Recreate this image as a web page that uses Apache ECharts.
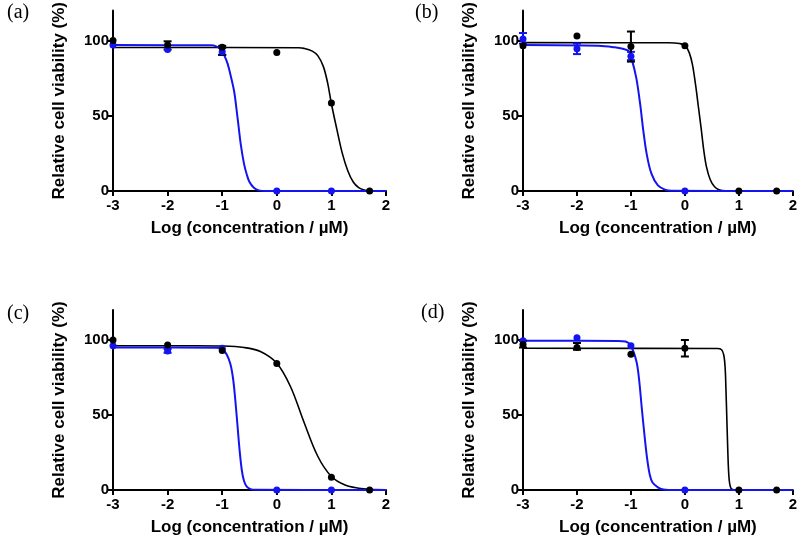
<!DOCTYPE html>
<html>
<head>
<meta charset="utf-8">
<script src="https://cdn.jsdelivr.net/npm/echarts@6/dist/echarts.min.js"></script>
<style>html,body{margin:0;padding:0;background:#fff}#c{width:800px;height:537px}</style>
</head>
<body>
<div id="c"></div>
<script>
// ---- data ----
const panelLabels = ['(a)', '(b)', '(c)', '(d)'];
const xTicks = [-3, -2, -1, 0, 1, 2];
const yTicks = [0, 50, 100];

// (a)
const aBlackCurve = [[-3,95.4],[0.4,95.2],[0.5,94.8],[0.65,93],[0.75,90],[0.85,83],[0.93,72],[1.0,58],[1.1,41],[1.2,25],[1.3,13.5],[1.4,6],[1.5,2.3],[1.6,0.7],[1.7,0.2],[2,0]];
const aBlueCurve = [[-3,97],[-1.2,96.8],[-1.1,96],[-1.03,94.5],[-0.96,90],[-0.9,84.5],[-0.84,76],[-0.78,66],[-0.74,55],[-0.7,43],[-0.66,31],[-0.6,18],[-0.55,11],[-0.5,6],[-0.42,2.2],[-0.33,0.4],[-0.2,0],[2,0]];
const aBlackPts = [[-3,100],[-2,97],[-1,95.5],[0,92],[1,58.5],[1.7,0]];
const aBlackErr = [[-2,94,99.5],[-1,90.5,96.5]];
const aBluePts = [[-3,97],[-2,94],[-1,92.5],[0,0],[1,0]];
const aBlueErr = [[-1,90.5,95]];

// (b)
const bBlackCurve = [[-3,98.6],[-0.3,98.5],[-0.1,98],[0,96.8],[0.08,92],[0.14,84],[0.2,70],[0.25,56],[0.3,42],[0.35,27],[0.4,16],[0.47,7.5],[0.55,2.8],[0.63,0.9],[0.75,0.1],[2,0]];
const bBlueCurve = [[-3,97],[-1.6,96.5],[-1.3,95.5],[-1.15,94.5],[-1.04,93],[-0.98,87],[-0.9,75],[-0.83,58],[-0.77,40],[-0.71,25],[-0.62,11.5],[-0.5,3.7],[-0.37,0.9],[-0.25,0.1],[2,0]];
const bBlackPts = [[-3,96.5],[-2,103],[-1,96],[0,96.5],[1,0],[1.7,0]];
const bBlackErr = [[-1,86,106]];
const bBluePts = [[-3,101],[-2,94.5],[-1,89.5],[0,0]];
const bBlueErr = [[-3,98,105],[-2,91,98],[-1,87,92.5]];

// (c)
const cBlackCurve = [[-3,96.2],[-1.5,96.2],[-1,96],[-0.6,95],[-0.3,92.3],[0,84.5],[0.25,69],[0.5,45],[0.75,22.5],[1,9],[1.25,3.3],[1.5,1.2],[1.7,0.5],[2,0.2]];
const cBlueCurve = [[-3,95],[-1.1,94.8],[-1,93.8],[-0.92,90.5],[-0.85,84],[-0.8,74],[-0.76,60],[-0.72,43],[-0.68,26],[-0.64,13],[-0.6,6],[-0.55,2.3],[-0.48,0.6],[-0.4,0.1],[2,0]];
const cBlackPts = [[-3,100],[-2,96.7],[-1,93],[0,84.3],[1,8.5],[1.7,0]];
const cBlackErr = [];
const cBluePts = [[-3,96.2],[-2,92.7],[-1,94.5],[0,0],[1,0]];
const cBlueErr = [[-2,91.5,94]];

// (d)
const dBlackCurve = [[-3,94.5],[0.6,94.3],[0.68,93.5],[0.72,90],[0.745,82],[0.76,68],[0.775,50],[0.79,32],[0.805,16],[0.82,7],[0.84,2.5],[0.87,0.5],[0.95,0],[2,0]];
const dBlueCurve = [[-3,99.5],[-1.25,99.4],[-1.1,99],[-1,96],[-0.9,86],[-0.85,74],[-0.8,55],[-0.75,37],[-0.7,21],[-0.65,10],[-0.6,5],[-0.5,1.8],[-0.4,0.3],[-0.3,0],[2,0]];
const dBlackPts = [[-3,97],[-2,95],[-1,90.5],[0,94.5],[1,0],[1.7,0]];
const dBlackErr = [[-3,95,99.5],[-2,93.5,98],[0,89,100]];
const dBluePts = [[-3,99.5],[-2,101.5],[-1,96.2],[0,0]];
const dBlueErr = [];

const panels = [
  {bc:aBlackCurve, uc:aBlueCurve, bp:aBlackPts, be:aBlackErr, up:aBluePts, ue:aBlueErr},
  {bc:bBlackCurve, uc:bBlueCurve, bp:bBlackPts, be:bBlackErr, up:bBluePts, ue:bBlueErr},
  {bc:cBlackCurve, uc:cBlueCurve, bp:cBlackPts, be:cBlackErr, up:cBluePts, ue:cBlueErr},
  {bc:dBlackCurve, uc:dBlueCurve, bp:dBlackPts, be:dBlackErr, up:dBluePts, ue:dBlueErr}
];

const BLACK = '#000000';
const BLUE = '#1414f0';
const FONT = '"Liberation Sans", Arial, sans-serif';

const grids = [
  {left:113, top:10, width:273, height:181},
  {left:523, top:10, width:274, height:181},
  {left:113, top:310, width:273, height:181},
  {left:523, top:310, width:274, height:181}
];
const labelPos = [[7,3],[415,3],[7,304],[421,303]];

function errRender(color){
  return function(params, api){
    const x = api.value(0), lo = api.value(1), hi = api.value(2);
    const p1 = api.coord([x, lo]), p2 = api.coord([x, hi]);
    const w = 4;
    const st = {stroke: color, lineWidth: 2};
    return {type:'group', children:[
      {type:'line', shape:{x1:p1[0], y1:p1[1], x2:p2[0], y2:p2[1]}, style:st},
      {type:'line', shape:{x1:p1[0]-w, y1:p1[1], x2:p1[0]+w, y2:p1[1]}, style:st},
      {type:'line', shape:{x1:p2[0]-w, y1:p2[1], x2:p2[0]+w, y2:p2[1]}, style:st}
    ]};
  };
}

const xAxes = [], yAxes = [], series = [], graphics = [];
panels.forEach((p, i) => {
  xAxes.push({
    type:'value', gridIndex:i, min:-3, max:2, interval:1,
    name:'Log (concentration / µM)', nameLocation:'middle', nameGap:29,
    nameTextStyle:{fontFamily:FONT, fontWeight:'bold', fontSize:17, color:'#000'},
    axisLine:{show:true, onZero:false, lineStyle:{color:'#000', width:2}},
    axisTick:{show:true, length:5, lineStyle:{color:'#000', width:2}},
    axisLabel:{fontFamily:FONT, fontWeight:'bold', fontSize:15, color:'#000', margin:7,
      customValues: xTicks},
    splitLine:{show:false}
  });
  yAxes.push({
    type:'value', gridIndex:i, min:0, max:120,
    name:'Relative cell viability (%)', nameLocation:'middle', nameGap:45,
    nameTextStyle:{fontFamily:FONT, fontWeight:'bold', fontSize:17, color:'#000'},
    axisLine:{show:true, onZero:false, lineStyle:{color:'#000', width:2}},
    axisTick:{show:true, length:5, lineStyle:{color:'#000', width:2}, customValues: yTicks},
    axisLabel:{fontFamily:FONT, fontWeight:'bold', fontSize:15, color:'#000', margin:4,
      customValues: yTicks},
    splitLine:{show:false}
  });
  series.push({type:'line', xAxisIndex:i, yAxisIndex:i, data:p.bc, smooth:0.35,
    showSymbol:false, lineStyle:{color:BLACK, width:1.6}, z:2, silent:true});
  series.push({type:'line', xAxisIndex:i, yAxisIndex:i, data:p.uc, smooth:0.35,
    showSymbol:false, lineStyle:{color:BLUE, width:2}, z:3, silent:true});
  series.push({type:'custom', xAxisIndex:i, yAxisIndex:i, data:p.ue, renderItem:errRender(BLUE),
    encode:{x:0, y:[1,2]}, z:4, silent:true});
  series.push({type:'custom', xAxisIndex:i, yAxisIndex:i, data:p.be, renderItem:errRender(BLACK),
    encode:{x:0, y:[1,2]}, z:4, silent:true});
  series.push({type:'scatter', xAxisIndex:i, yAxisIndex:i, data:p.up, symbol:'circle', symbolSize:7,
    itemStyle:{color:BLUE, opacity:1}, z:5, silent:true});
  series.push({type:'scatter', xAxisIndex:i, yAxisIndex:i, data:p.bp, symbol:'circle', symbolSize:7,
    itemStyle:{color:BLACK, opacity:1}, z:6, silent:true});
  graphics.push({type:'text', left:labelPos[i][0], top:labelPos[i][1],
    style:{text:panelLabels[i], font:'20px "Liberation Serif", "Times New Roman", serif', fill:'#000'}});
});

const chart = echarts.init(document.getElementById('c'), null, {renderer:'canvas'});
chart.setOption({
  animation:false,
  backgroundColor:'#fff',
  grid: grids,
  xAxis: xAxes,
  yAxis: yAxes,
  series: series,
  graphic: graphics
});
</script>
</body>
</html>
